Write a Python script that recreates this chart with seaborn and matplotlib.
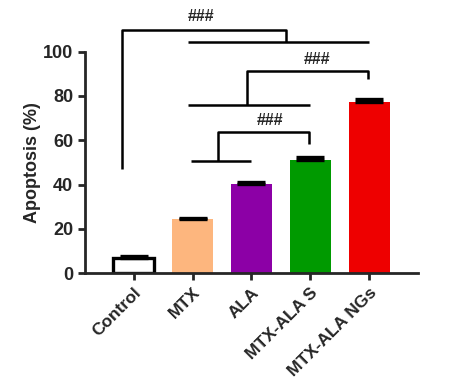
import matplotlib
matplotlib.use("Agg")
import matplotlib.pyplot as plt
import seaborn as sns
import pandas as pd

categories = ["Control", "MTX", "ALA", "MTX-ALA S", "MTX-ALA NGs"]
values = [7.0, 24.3, 40.3, 51.0, 77.5]
errors = [0.9, 0.7, 0.7, 1.5, 1.2]
colors = ["#FFFFFF", "#FDB67E", "#8C00A6", "#009A00", "#EE0000"]
yticks = [0, 20, 40, 60, 80, 100]

sns.set_style("ticks")
plt.rcParams['font.family'] = ['Liberation Sans', 'DejaVu Sans']
plt.rcParams['font.weight'] = 'bold'

fig = plt.figure(figsize=(4.49, 3.83), dpi=100)
ax = fig.add_axes([0.189, 0.287, 0.742, 0.578])

df = pd.DataFrame({"cat": categories, "val": values})
sns.barplot(data=df, x="cat", y="val", hue="cat", palette=colors, legend=False,
            width=0.7, errorbar=None, ax=ax, edgecolor="none", saturation=1)
for i, p in enumerate(ax.patches):
    if i == 0:
        p.set_edgecolor("black")
        p.set_linewidth(2.4)
ax.errorbar(range(len(values)), values, yerr=[[0]*len(errors), errors], fmt="none",
            ecolor="black", elinewidth=2, capsize=10, capthick=2.4)

ax.set_ylim(0, 100)
ax.set_xlim(-0.83, 4.83)
ax.set_yticks(yticks)
ax.set_xlabel("")
ax.set_ylabel("Apoptosis (%)", fontsize=13, fontweight="bold", labelpad=1)
ax.tick_params(axis="y", labelsize=13, width=2, length=5)
ax.tick_params(axis="x", labelsize=12.5, width=2, length=5)
plt.setp(ax.get_xticklabels(), rotation=45, ha="right", rotation_mode="anchor", fontweight="bold")
plt.setp(ax.get_yticklabels(), fontweight="bold")
for s in ["left", "bottom"]:
    ax.spines[s].set_linewidth(2)
for s in ["top", "right"]:
    ax.spines[s].set_visible(False)

lw = 1.8
kw = dict(color="black", lw=lw, clip_on=False, solid_capstyle="butt")
ax.plot([-0.2, -0.2, 2.58, 2.58], [47, 110, 110, 104.4], **kw)
ax.plot([0.92, 4.0], [104.4, 104.4], **kw)
ax.text(1.15, 112.5, "###", ha="center", va="bottom", fontsize=11.5, fontweight="bold")
ax.plot([0.92, 3.0], [75.8, 75.8], **kw)
ax.plot([1.93, 1.93, 3.98, 3.98], [75.8, 91.2, 91.2, 87.6], **kw)
ax.text(3.12, 93.0, "###", ha="center", va="bottom", fontsize=11.5, fontweight="bold")
ax.plot([0.97, 2.0], [50.7, 50.7], **kw)
ax.plot([1.44, 1.44, 2.98, 2.98], [50.7, 63.8, 63.8, 58.5], **kw)
ax.text(2.32, 65.5, "###", ha="center", va="bottom", fontsize=11.5, fontweight="bold")

fig.savefig("out.png", dpi=100)
